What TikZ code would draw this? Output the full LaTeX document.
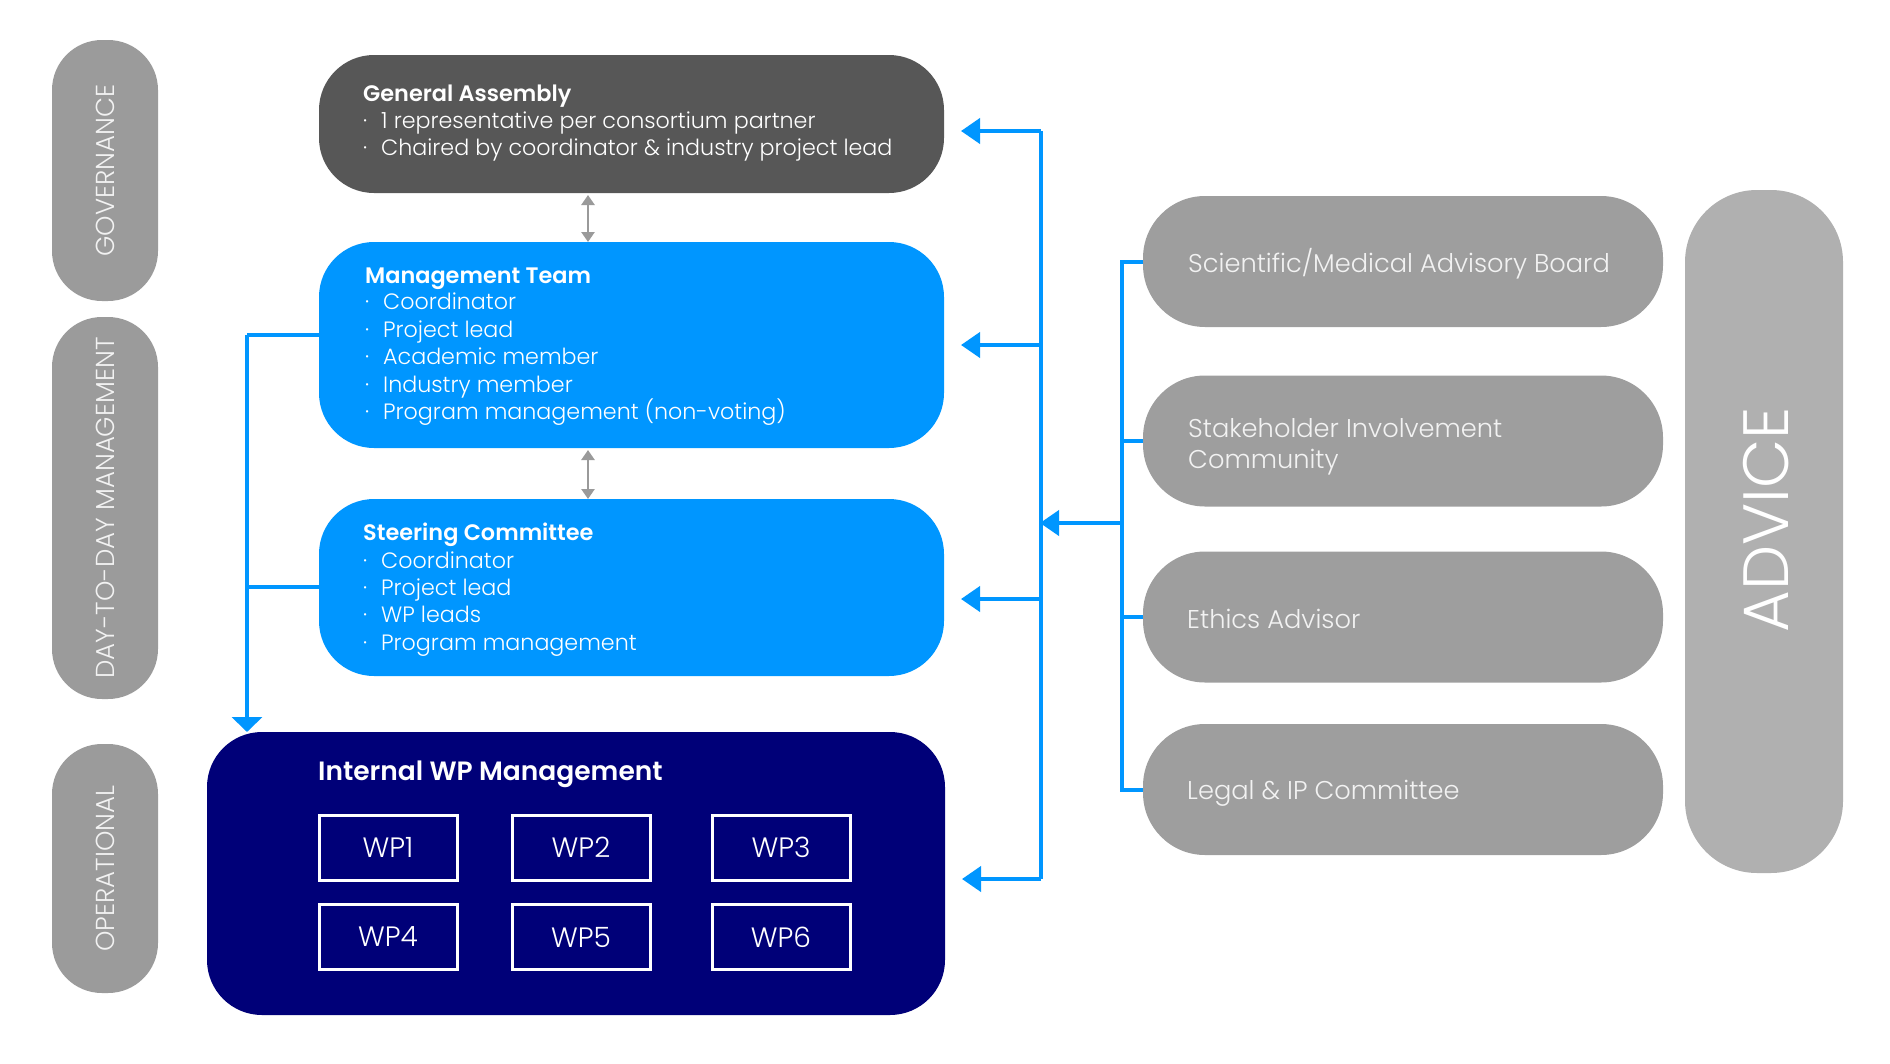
\documentclass[tikz,border=0pt]{standalone}
\usepackage{fontspec}
\setmainfont{Poppins}[UprightFont={* Light},BoldFont={* SemiBold}]
\usetikzlibrary{arrows.meta}
\definecolor{gadark}{HTML}{575757}
\definecolor{mblue}{HTML}{0096FF}
\definecolor{navy}{HTML}{000078}
\definecolor{advgray}{HTML}{9E9E9E}
\definecolor{advbig}{HTML}{B0B0B0}
\definecolor{pillgray}{HTML}{9B9B9B}
\definecolor{dblgray}{HTML}{9A9A9A}
\definecolor{softwhite}{HTML}{F2F2F2}
\begin{document}
\begin{tikzpicture}[x=1pt,y=-1pt,
  blk/.style={rounded corners=#1, inner sep=0pt, outer sep=0pt},
  ttl/.style={anchor=base west, inner sep=0pt, font=\fontsize{22.4}{27}\bfseries, text=white},
  itm/.style={anchor=base west, inner sep=0pt, font=\fontsize{22.2}{27}\selectfont, text=white},
  advtxt/.style={anchor=base west, inner sep=0pt, font=\fontsize{25.7}{31}\selectfont, text=softwhite},
  lbl/.style={inner sep=0pt, rotate=90, font=\fontsize{26}{30}\selectfont, text=softwhite},
  wpbox/.style={draw=white, line width=3pt, minimum width=138pt, minimum height=65pt, inner sep=0pt, font=\fontsize{28}{32}\selectfont, text=white},
  conn/.style={draw=mblue, line width=4pt},
  arr/.style={-{Triangle[length=19pt,width=25pt]}},
  dbl/.style={draw=dblgray, line width=2.5pt, {Triangle[length=10pt,width=13pt]}-{Triangle[length=10pt,width=13pt]}}
]
\useasboundingbox (0,0) rectangle (1890,1063);
\newcommand{\bul}{\makebox[18pt][l]{·}}

% left pills
\node[blk=50pt, fill=pillgray, minimum width=106pt, minimum height=261pt] (pgov) at (105,170.5) {};
\node[blk=50pt, fill=pillgray, minimum width=106pt, minimum height=382pt] (pday) at (105,508) {};
\node[blk=50pt, fill=pillgray, minimum width=106pt, minimum height=249pt] (pop) at (105,868.5) {};
\node[lbl] (lgov) at (pgov) {GOVERNANCE};
\node[lbl] (lday) at (pday) {DAY-TO-DAY MANAGEMENT};
\node[lbl] (lop) at (pop) {OPERATIONAL};

% main boxes
\node[blk=55pt, fill=gadark, minimum width=625pt, minimum height=138pt] (ga) at (631.5,124) {};
\node[blk=55pt, fill=mblue, minimum width=625pt, minimum height=206pt] (mt) at (631.5,345) {};
\node[blk=55pt, fill=mblue, minimum width=625pt, minimum height=177pt] (sc) at (631.5,587.5) {};
\node[blk=55pt, fill=navy, minimum width=738pt, minimum height=283pt] (wp) at (576,873.5) {};

% text GA
\node[ttl] (gat) at (363,101) {General Assembly};
\node[itm] (ga1) at (363,128) {\bul 1 representative per consortium partner};
\node[itm] (ga2) at (363,155) {\bul Chaired by coordinator \& industry project lead};
% text MT
\node[ttl] (mtt) at (365,283) {Management Team};
\node[itm] (mt1) at (365,309) {\bul Coordinator};
\node[itm] (mt2) at (365,337) {\bul Project lead};
\node[itm] (mt3) at (365,364) {\bul Academic member};
\node[itm] (mt4) at (365,392) {\bul Industry member};
\node[itm] (mt5) at (365,419) {\bul Program management (non-voting)};
% text SC
\node[ttl] (sct) at (363,540) {Steering Committee};
\node[itm] (sc1) at (363,568) {\bul Coordinator};
\node[itm] (sc2) at (363,595) {\bul Project lead};
\node[itm] (sc3) at (363,622) {\bul WP leads};
\node[itm] (sc4) at (363,650) {\bul Program management};
% WP
\node[ttl, font=\fontsize{26.5}{30}\bfseries] (wpt) at (318,780) {Internal WP Management};
\node[wpbox] (wp1) at (388,847.5) {WP1};
\node[wpbox] (wp2) at (581,847.5) {WP2};
\node[wpbox] (wp3) at (781,847.5) {WP3};
\node[wpbox] (wp4) at (388,937) {WP4};
\node[wpbox] (wp5) at (581,937) {WP5};
\node[wpbox] (wp6) at (781,937) {WP6};

% advisory boxes
\node[blk=62pt, fill=advgray, minimum width=520pt, minimum height=131pt] (sci) at (1403,261.5) {};
\node[blk=62pt, fill=advgray, minimum width=520pt, minimum height=131pt] (stk) at (1403,441) {};
\node[blk=62pt, fill=advgray, minimum width=520pt, minimum height=131pt] (eth) at (1403,617) {};
\node[blk=62pt, fill=advgray, minimum width=520pt, minimum height=131pt] (leg) at (1403,789.5) {};
\node[advtxt] (scit) at (1188,272) {Scientific/Medical Advisory Board};
\node[advtxt] (stkt1) at (1188,437) {Stakeholder Involvement};
\node[advtxt] (stkt2) at (1188,468) {Community};
\node[advtxt] (etht) at (1187,628) {Ethics Advisor};
\node[advtxt] (legt) at (1187,799) {Legal \& IP Committee};
\node[blk=72pt, fill=advbig, minimum width=158pt, minimum height=683pt] (adv) at (1764,531.5) {};
\node[inner sep=0pt, rotate=90, font=\fontsize{64}{70}\selectfont, text=white] (advt) at (1766,520) {ADVICE};

% grey double arrows
\draw[dbl] (ga.south -| 588,0) ++(0,2) coordinate (d1a) -- (mt.north -| 588,0);
\draw[dbl] (mt.south -| 588,0) ++(0,2) coordinate (d2a) -- (sc.north -| 588,0);

% right bus to main boxes
\coordinate (bGA) at (1041,131);
\coordinate (bMT) at (1041,345);
\coordinate (bSC) at (1041,599);
\coordinate (bWP) at (1041,879);
\draw[conn] (bGA) -- (bWP);
\draw[conn, arr, shorten >=17pt] (bGA) -- (bGA -| ga.east);
\draw[conn, arr, shorten >=17pt] (bMT) -- (bMT -| mt.east);
\draw[conn, arr, shorten >=17pt] (bSC) -- (bSC -| sc.east);
\draw[conn, arr, shorten >=17pt] (bWP) -- (bWP -| wp.east);

% advisory bus
\coordinate (aTop) at (1122,261.5);
\coordinate (aBot) at (1122,789.5);
\coordinate (aMid) at (1122,523);
\draw[conn] (sci.west) -- (aTop) -- (aBot) -- (leg.west);
\draw[conn] (stk.west) -- (stk.west -| aTop);
\draw[conn] (eth.west) -- (eth.west -| aTop);
\draw[conn, arr, shorten >=-1pt] (aMid) -- (aMid -| bGA);

% left bus
\coordinate (lMT) at (247,335);
\coordinate (lSC) at (247,587);
\draw[conn] (lMT -| mt.west) -- (lMT);
\draw[conn] (lSC -| sc.west) -- (lSC);
\draw[conn, -{Triangle[length=15pt,width=30pt]}] (lMT) -- (lMT |- wp.north);
\end{tikzpicture}
\end{document}
